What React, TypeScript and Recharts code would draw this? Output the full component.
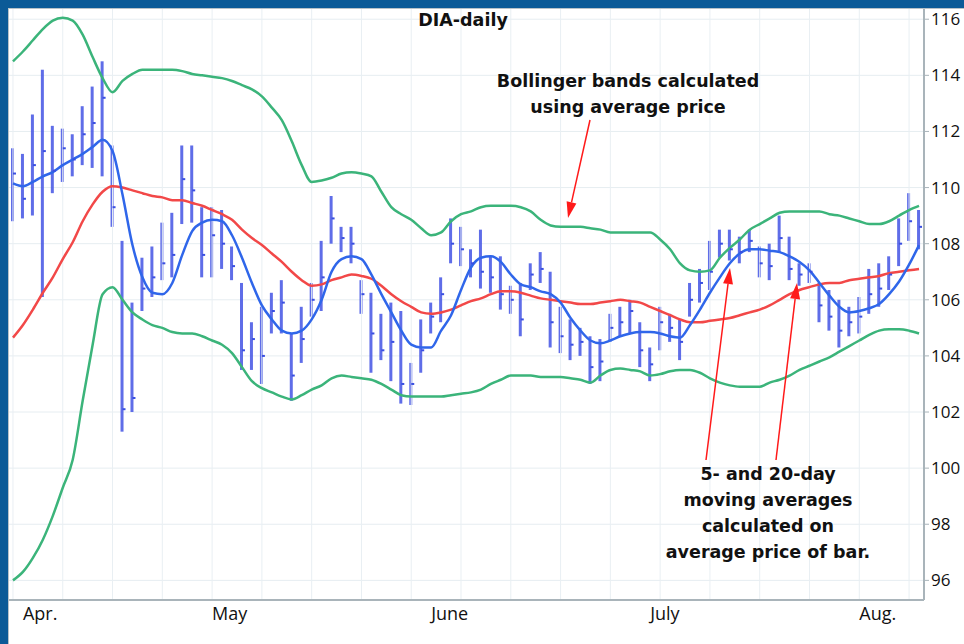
import React from "react";
import {
  ComposedChart,
  Bar,
  Line,
  XAxis,
  YAxis,
  CartesianGrid,
  ReferenceLine,
} from "recharts";

// daily bars, early April to mid August
const highs = [
  111.4, 111.2, 112.6, 114.2, 112.2, 112.1, 111.9, 112.9, 113.6, 114.5,
  111.5, 108.1, 105.9, 107.5, 107.9, 108.75, 109.1, 111.5, 111.5, 109.3,
  109.3, 109.2, 107.9, 106.6, 105.2, 105.75, 106.25, 106.7, 104.8, 105.75,
  106.6, 108.1, 109.7, 108.6, 108.6, 106.7, 106.25, 105.5, 105.9, 105.6,
  103.75, 105.3, 105.9, 106.8, 108.9, 108.6, 107.8, 108.5, 107.55, 107.55,
  106.5, 106.6, 107.3, 107.7, 107.0, 105.75, 105.3, 105.0, 104.7, 104.6,
  105.5, 105.75, 106.0, 105.2, 104.3, 105.75, 105.5, 105.3, 106.6, 107.1,
  108.1, 108.5, 108.5, 108.25, 108.5, 107.9, 108.0, 109.0, 108.25, 107.3,
  107.3, 106.6, 106.35, 106.0, 105.75, 106.1, 107.1, 107.3, 107.55, 108.9,
  109.8, 109.2,
];
const lows = [
  108.8, 108.9, 109.0, 106.1, 109.8, 110.2, 110.4, 110.8, 110.7, 110.4,
  108.6, 101.3, 102.0, 105.6, 106.1, 106.7, 106.8, 108.7, 108.75, 106.8,
  106.8, 107.1, 106.7, 103.5, 103.5, 103.0, 104.8, 104.8, 102.4, 103.75,
  105.4, 105.6, 108.0, 107.7, 107.3, 105.5, 103.4, 103.85, 103.1, 102.3,
  102.25, 103.4, 104.8, 105.2, 107.3, 107.2, 106.8, 106.4, 106.25, 105.65,
  105.5, 104.7, 106.35, 106.6, 104.3, 104.1, 103.85, 104.0, 103.0, 103.1,
  104.5, 104.7, 104.8, 103.6, 103.1, 104.2, 104.5, 103.85, 105.4, 105.9,
  106.35, 107.5, 107.4, 107.3, 107.7, 106.8, 106.7, 107.7, 106.7, 106.5,
  106.6, 105.2, 104.9, 104.3, 104.7, 104.8, 105.5, 105.75, 106.35, 107.2,
  108.1, 107.8,
];
const closes = [
  110.5, 109.6, 110.8, 111.3, 110.6, 111.4, 111.0, 111.9, 112.3, 113.2,
  109.3, 102.1, 102.5, 106.4, 106.8, 107.3, 107.6, 110.3, 109.9, 107.6,
  108.3, 108.0, 107.2, 104.2, 104.6, 104.0, 105.6, 105.9, 103.3, 104.6,
  106.0, 106.8, 108.9, 108.2, 108.0, 106.2, 104.8, 104.2, 104.5, 103.0,
  103.0, 104.2, 105.4, 106.2, 108.0, 107.8, 107.3, 107.0, 106.8, 106.2,
  106.0, 105.3, 106.9, 107.1, 105.2, 104.7, 104.4, 104.5, 103.6, 103.8,
  105.0, 105.2, 105.6, 104.2, 103.7, 105.2, 105.0, 104.5, 106.0, 106.6,
  107.0, 108.0, 107.8, 107.7, 108.1, 107.3, 107.2, 108.2, 107.1, 106.9,
  107.0, 105.8, 105.4, 104.9, 105.2, 105.4, 106.2, 106.4, 106.9, 108.0,
  108.8, 108.6,
];
const ma5 = [
  110.15, 110.05, 110.2, 110.4, 110.55, 110.8, 111.0, 111.2, 111.45, 111.7,
  111.3, 109.75, 107.95, 106.8, 106.25, 106.2, 106.6, 107.6, 108.45, 108.75,
  108.85, 108.8, 108.3, 107.5, 106.6, 105.8, 105.3, 104.9, 104.8, 104.9,
  105.3, 106.0, 107.0, 107.45, 107.55, 107.45, 106.9, 106.2, 105.55, 104.9,
  104.4, 104.3, 104.3, 104.9, 105.45, 106.35, 107.15, 107.5, 107.55, 107.35,
  106.9, 106.55, 106.45, 106.3, 106.2, 105.9, 105.35, 104.9, 104.55, 104.45,
  104.55, 104.7, 104.8, 104.85, 104.85, 104.8, 104.7, 104.65, 105.1, 105.65,
  106.25, 106.8, 107.3, 107.65, 107.8, 107.8, 107.75, 107.7, 107.55, 107.35,
  107.05, 106.6, 106.15, 105.75, 105.55, 105.6, 105.7, 105.85, 106.2, 106.65,
  107.25, 107.95,
];
const ma20 = [
  104.65, 105.1, 105.65, 106.25, 106.8, 107.45, 108.05, 108.8, 109.4, 109.85,
  110.05, 110.0, 109.9, 109.8, 109.7, 109.65, 109.55, 109.55, 109.45, 109.35,
  109.2, 109.05, 108.85, 108.5, 108.2, 107.95, 107.65, 107.35, 107.0, 106.7,
  106.5, 106.55, 106.7, 106.8, 106.9, 106.85, 106.75, 106.5, 106.2, 105.95,
  105.75, 105.55, 105.5, 105.55, 105.65, 105.8, 105.95, 106.05, 106.2, 106.3,
  106.3, 106.25, 106.15, 106.05, 106.0, 105.95, 105.9, 105.85, 105.85, 105.9,
  105.95, 106.0, 105.95, 105.9, 105.75, 105.6, 105.45, 105.3, 105.2, 105.2,
  105.25, 105.3, 105.35, 105.45, 105.55, 105.65, 105.8, 106.0, 106.2, 106.35,
  106.45, 106.55, 106.6, 106.6, 106.7, 106.75, 106.8, 106.85, 106.95, 107.0,
  107.05, 107.1,
];
const upperBand = [
  114.5, 114.85, 115.25, 115.65, 115.95, 116.05, 115.95, 115.45, 114.65, 113.9,
  113.4, 113.8, 114.05, 114.2, 114.2, 114.2, 114.2, 114.15, 114.05, 114.0,
  113.95, 113.9, 113.8, 113.65, 113.5, 113.25, 112.85, 112.4, 111.65, 110.8,
  110.2, 110.25, 110.35, 110.5, 110.55, 110.5, 110.4, 109.85, 109.3, 109.05,
  108.85, 108.55, 108.3, 108.4, 108.8, 109.05, 109.15, 109.3, 109.35, 109.35,
  109.35, 109.3, 109.15, 108.85, 108.65, 108.6, 108.6, 108.6, 108.55, 108.5,
  108.4, 108.4, 108.4, 108.4, 108.4, 108.15, 107.8, 107.3, 107.05, 107.0,
  107.05, 107.5, 107.85, 108.15, 108.5, 108.7, 108.9, 109.1, 109.15, 109.15,
  109.15, 109.15, 109.05, 109.0, 108.9, 108.8, 108.7, 108.7, 108.8, 109.0,
  109.2, 109.35,
];
const lowerBand = [
  96.0, 96.3, 96.8, 97.45, 98.3, 99.3, 100.3, 102.4, 104.4, 106.2,
  106.45, 106.0, 105.55, 105.3, 105.1, 105.0, 104.85, 104.8, 104.8, 104.7,
  104.55, 104.4, 104.1, 103.6, 103.1, 102.85, 102.7, 102.55, 102.45, 102.6,
  102.8, 102.95, 103.2, 103.3, 103.25, 103.2, 103.15, 103.0, 102.8, 102.6,
  102.55, 102.55, 102.55, 102.55, 102.6, 102.65, 102.7, 102.8, 103.0, 103.15,
  103.3, 103.3, 103.3, 103.25, 103.25, 103.25, 103.2, 103.15, 103.05, 103.3,
  103.5, 103.55, 103.5, 103.45, 103.3, 103.35, 103.45, 103.5, 103.5, 103.4,
  103.2, 103.05, 102.95, 102.9, 102.9, 102.9, 103.05, 103.15, 103.3, 103.5,
  103.65, 103.8, 103.95, 104.15, 104.35, 104.55, 104.75, 104.9, 104.95, 104.95,
  104.9, 104.8,
];

const monthLabels = ["Apr.", "May", "June", "July", "Aug."];
const monthStarts = [1, 20, 42, 64, 85];
const weekStarts = [
  0, 5, 10, 15, 20, 25, 30, 35, 40, 45, 50, 55, 60, 65, 70, 75, 80, 85, 90,
];
const yTicks = [96, 98, 100, 102, 104, 106, 108, 110, 112, 114, 116];

const data = highs.map((h, i) => ({
  idx: i,
  range: [lows[i], h],
  close: closes[i],
  ma5: ma5[i],
  ma20: ma20[i],
  upper: upperBand[i],
  lower: lowerBand[i],
}));

const axisFont = "'Open Sans', sans-serif";
const noteFont = "'DejaVu Sans', sans-serif";

function MonthTick({ x, y, payload }: any) {
  const label = monthLabels[monthStarts.indexOf(payload.value)];
  return (
    <text x={x} y={y + 12} textAnchor="start" fontSize={18} fill="#111" fontFamily={axisFont}>
      {label}
    </text>
  );
}

function CloseMark(props: any) {
  const { cx, cy, index } = props;
  return <rect key={"c" + index} x={cx} y={cy - 1} width={3} height={2} fill="#3a4fe0" />;
}

function Arrow({ x1, y1, x2, y2 }: any) {
  const ang = Math.atan2(y2 - y1, x2 - x1);
  const len = 16;
  const w = 5;
  const bx = x2 - len * Math.cos(ang);
  const by = y2 - len * Math.sin(ang);
  const px = -Math.sin(ang) * w;
  const py = Math.cos(ang) * w;
  return (
    <g>
      <line x1={x1} y1={y1} x2={bx} y2={by} stroke="#ff1a1a" strokeWidth={1.5} />
      <polygon points={`${x2},${y2} ${bx + px},${by + py} ${bx - px},${by - py}`} fill="#ff1a1a" />
    </g>
  );
}

export default function App() {
  const annStyle = { fontFamily: noteFont, fontWeight: 700, fontSize: 17.5, fill: "#111" } as any;
  return (
    <div style={{ position: "absolute", left: 0, top: 0, width: 964, height: 644, background: "#fff", overflow: "hidden" }}>
      <ComposedChart
        width={964}
        height={644}
        data={data}
        margin={{ top: 8, right: 0, bottom: 14, left: 8 }}
        barCategoryGap={0}
      >
        <CartesianGrid stroke="#e6edf1" vertical={false} />
        {weekStarts.map((w) => (
          <ReferenceLine key={w} x={w} stroke="#e9eff3" />
        ))}
        <XAxis
          dataKey="idx"
          type="category"
          ticks={monthStarts}
          interval={0}
          height={30}
          tick={<MonthTick />}
          tickLine={false}
          axisLine={{ stroke: "#a9b4ba", strokeWidth: 2 }}
        />
        <YAxis
          orientation="right"
          width={40}
          domain={[95.3, 116.4]}
          ticks={yTicks}
          interval={0}
          tickSize={5}
          tickMargin={2}
          tickLine={{ stroke: "#a9b4ba" }}
          axisLine={{ stroke: "#a9b4ba", strokeWidth: 2 }}
          tick={{ fontSize: 17, fill: "#111", fontFamily: axisFont }}
        />
        <Bar dataKey="range" barSize={3} fill="#4354e4" fillOpacity={0.85} isAnimationActive={false} />
        <Line dataKey="close" stroke="none" dot={<CloseMark />} isAnimationActive={false} />
        <Line type="monotone" dataKey="upper" stroke="#3bb47a" strokeWidth={2.5} dot={false} isAnimationActive={false} />
        <Line type="monotone" dataKey="lower" stroke="#3bb47a" strokeWidth={2.5} dot={false} isAnimationActive={false} />
        <Line type="monotone" dataKey="ma20" stroke="#f24848" strokeWidth={2.5} dot={false} isAnimationActive={false} />
        <Line type="monotone" dataKey="ma5" stroke="#2f66ea" strokeWidth={2.5} dot={false} isAnimationActive={false} />
      </ComposedChart>

      <svg width={964} height={644} style={{ position: "absolute", left: 0, top: 0, pointerEvents: "none" }}>
        <text x={463} y={26} textAnchor="middle" {...annStyle}>DIA-daily</text>
        <text x={628} y={87} textAnchor="middle" {...annStyle}>Bollinger bands calculated</text>
        <text x={628} y={113} textAnchor="middle" {...annStyle}>using average price</text>
        <Arrow x1={590} y1={120} x2={568} y2={218} />
        <text x={768} y={480} textAnchor="middle" {...annStyle}>5- and 20-day</text>
        <text x={768} y={506} textAnchor="middle" {...annStyle}>moving averages</text>
        <text x={768} y={532} textAnchor="middle" {...annStyle}>calculated on</text>
        <text x={768} y={558} textAnchor="middle" {...annStyle}>average price of bar.</text>
        <Arrow x1={706} y1={460} x2={730} y2={268} />
        <Arrow x1={776} y1={460} x2={797} y2={283} />
      </svg>

      <div style={{ position: "absolute", left: 0, top: 0, width: 964, height: 8, background: "#0b5a97" }} />
      <div style={{ position: "absolute", left: 0, top: 0, width: 8, height: 644, background: "#0b5a97" }} />
      <div style={{ position: "absolute", left: 8, top: 8, width: 956, height: 1, background: "#b8c2c8" }} />
      <div style={{ position: "absolute", left: 8, top: 8, width: 1, height: 636, background: "#b8c2c8" }} />
    </div>
  );
}
